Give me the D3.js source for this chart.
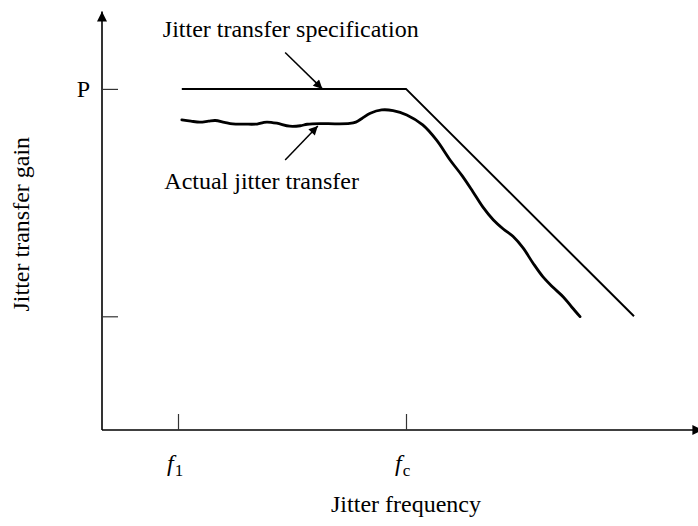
<!DOCTYPE html>
<html>
<head>
<meta charset="utf-8">
<script src="https://cdn.jsdelivr.net/npm/d3@7"></script>
<style>
  html, body { margin: 0; padding: 0; background: #fff; }
  svg { display: block; }
  text { font-family: "Liberation Serif", "Times New Roman", serif; fill: #000; }
</style>
</head>
<body>
<svg id="chart" width="698" height="526"></svg>
<script>
// ---- Data (frequency units: f1 = 1, fc = 4; gain units: P = 3) ----
const xTicks = [1, 4];
const xTickLabels = ["1", "c"];            // subscripts of f
const yTicks = [1, 3];
const yTickLabels = ["", "P"];
const specX = [1.05, 4, 7];
const specY = [3, 3, 1];
const actualX = [1.05, 1.17, 1.29, 1.40, 1.49, 1.61, 1.72, 1.88, 2.04, 2.12, 2.17, 2.30, 2.47, 2.61, 2.70, 2.87, 3.07, 3.26, 3.34, 3.42, 3.53, 3.68, 3.83, 4.01, 4.22, 4.40, 4.58, 4.74, 4.88, 5.01, 5.15, 5.28, 5.41, 5.54, 5.67, 5.80, 5.93, 6.07, 6.18, 6.29];
const actualY = [2.727, 2.716, 2.708, 2.716, 2.722, 2.706, 2.692, 2.690, 2.691, 2.703, 2.708, 2.698, 2.672, 2.676, 2.689, 2.695, 2.693, 2.696, 2.708, 2.740, 2.786, 2.815, 2.809, 2.771, 2.683, 2.551, 2.375, 2.235, 2.096, 1.962, 1.847, 1.768, 1.701, 1.601, 1.469, 1.349, 1.258, 1.170, 1.082, 0.997];
const annotationText = ["Jitter transfer specification", "Actual jitter transfer"];
const annotationTextX = [0.80, 0.82];
const annotationTextY = [3.455, 2.12];
const arrowFromX = [2.41, 2.41];
const arrowFromY = [3.32, 2.375];
const arrowToX = [2.90, 2.84];
const arrowToY = [3.0, 2.674];
const xTitle = "Jitter frequency";
const yTitle = "Jitter transfer gain";

// ---- Layout ----
const svg = d3.select("#chart");
const x = d3.scaleLinear().domain([0, 1]).range([102, 178]);
const y = d3.scaleLinear().domain([0, 1]).range([430, 316.3]);
const xMax = 7.9, yMax = 3.68;

const defs = svg.append("defs");
defs.append("marker")
  .attr("id", "axisHead").attr("viewBox", "0 0 10 10")
  .attr("refX", 10).attr("refY", 5)
  .attr("markerWidth", 18).attr("markerHeight", 10).attr("markerUnits", "userSpaceOnUse")
  .attr("orient", "auto")
  .append("path").attr("d", "M0,0 L10,5 L0,10 Z").attr("fill", "#000");
defs.append("marker")
  .attr("id", "annHead").attr("viewBox", "0 0 10 10")
  .attr("refX", 10).attr("refY", 5)
  .attr("markerWidth", 16).attr("markerHeight", 9).attr("markerUnits", "userSpaceOnUse")
  .attr("orient", "auto")
  .append("path").attr("d", "M0,0 L10,5 L0,10 Z").attr("fill", "#000");

// Axes
svg.append("line")
  .attr("x1", x(0)).attr("y1", y(0)).attr("x2", x(xMax)).attr("y2", y(0))
  .attr("stroke", "#000").attr("stroke-width", 1.6).attr("marker-end", "url(#axisHead)");
svg.append("line")
  .attr("x1", x(0)).attr("y1", y(0)).attr("x2", x(0)).attr("y2", y(yMax))
  .attr("stroke", "#000").attr("stroke-width", 1.6).attr("marker-end", "url(#axisHead)");

// X ticks (inward)
const xAxis = d3.axisTop(x).tickValues(xTicks).tickSize(16).tickFormat("");
const gx = svg.append("g").attr("transform", `translate(0,${y(0)})`).call(xAxis);
gx.select(".domain").remove();
gx.selectAll(".tick line").attr("stroke", "#333").attr("stroke-width", 1.2);

// Y ticks (inward)
const yAxis = d3.axisRight(y).tickValues(yTicks).tickSize(16).tickFormat("");
const gy = svg.append("g").attr("transform", `translate(${x(0)},0)`).call(yAxis);
gy.select(".domain").remove();
gy.selectAll(".tick line").attr("stroke", "#333").attr("stroke-width", 1.2);

// Y tick labels
yTicks.forEach((v, i) => {
  svg.append("text").attr("x", x(0) - 12).attr("y", y(v) + 8)
    .attr("text-anchor", "end").attr("font-size", 24).text(yTickLabels[i]);
});

// X tick labels: f with subscript
xTicks.forEach((v, i) => {
  const t = svg.append("text").attr("x", x(v) - 11).attr("y", 471).attr("font-size", 24);
  t.append("tspan").attr("font-style", "italic").text("f");
  t.append("tspan").attr("font-size", 17).attr("dy", 5).attr("dx", 1).text(xTickLabels[i]);
});

// Titles
svg.append("text").attr("x", 406).attr("y", 512).attr("text-anchor", "middle")
  .attr("font-size", 24).text(xTitle);
svg.append("text").attr("transform", `translate(29,${y(1.81)}) rotate(-90)`)
  .attr("text-anchor", "middle").attr("font-size", 24).text(yTitle);

// Spec line
const specData = specX.map((d, i) => [d, specY[i]]);
svg.append("path").datum(specData)
  .attr("d", d3.line().x(d => x(d[0])).y(d => y(d[1])))
  .attr("fill", "none").attr("stroke", "#000").attr("stroke-width", 2).attr("stroke-linejoin", "miter");

// Actual line
const actData = actualX.map((d, i) => [d, actualY[i]]);
svg.append("path").datum(actData)
  .attr("d", d3.line().curve(d3.curveCatmullRom).x(d => x(d[0])).y(d => y(d[1])))
  .attr("fill", "none").attr("stroke", "#000").attr("stroke-width", 2.8).attr("stroke-linecap", "round");

// Annotations
annotationText.forEach((t, i) => {
  svg.append("text").attr("x", x(annotationTextX[i])).attr("y", y(annotationTextY[i]))
    .attr("font-size", 24).text(t);
  svg.append("line")
    .attr("x1", x(arrowFromX[i])).attr("y1", y(arrowFromY[i]))
    .attr("x2", x(arrowToX[i])).attr("y2", y(arrowToY[i]))
    .attr("stroke", "#000").attr("stroke-width", 1.5).attr("marker-end", "url(#annHead)");
});
</script>
</body>
</html>
